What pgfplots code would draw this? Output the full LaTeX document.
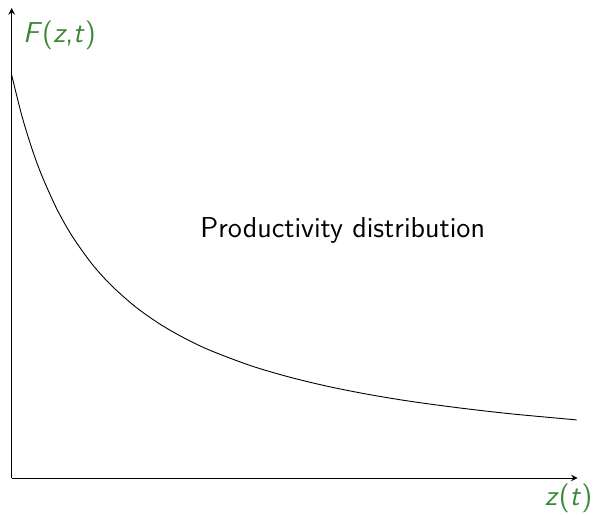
\documentclass[border=0pt]{standalone}
\usepackage{pgfplots}
\pgfplotsset{compat=1.18}
\definecolor{lblgreen}{RGB}{60,135,55}
\renewcommand{\familydefault}{\sfdefault}
\begin{document}
\begin{tikzpicture}
\begin{axis}[
  at={(0,0)}, anchor=south west,
  scale only axis,
  width=283pt, height=235pt,
  xmin=0, xmax=566, ymin=0, ymax=470,
  axis lines=left,
  axis line style={line width=0.5pt},
  xtick=\empty, ytick=\empty,
  clip=false,
]
\addplot[black, line width=0.45pt, smooth] coordinates {
(0,402.9) (10,362.8) (20,330.0) (30,302.7) (45,269.3) (60,242.6) (80,214.4)
(100,192.2) (125,170.2) (150,152.8) (175,138.7) (200,127.0) (240,112.0)
(280,100.3) (320,90.8) (360,83.0) (400,76.5) (450,69.8) (500,64.1) (565,58.1)
};
\node[anchor=west, text=lblgreen, font=\Large\sffamily, inner sep=0pt] at (axis cs:11,443) {\textsl{F}(\textsl{z},\textsl{t})};
\node[anchor=east, text=lblgreen, font=\Large\sffamily, inner sep=0pt] at (axis cs:581,-20) {\textsl{z}(\textsl{t})};
\node[font=\Large\sffamily, inner sep=0pt] at (axis cs:331,248) {Productivity distribution};
\end{axis}
\pgfresetboundingbox
\path[use as bounding box] (-5.85pt,-18.5pt) rectangle (291.65pt,239pt);
\end{tikzpicture}
\end{document}
